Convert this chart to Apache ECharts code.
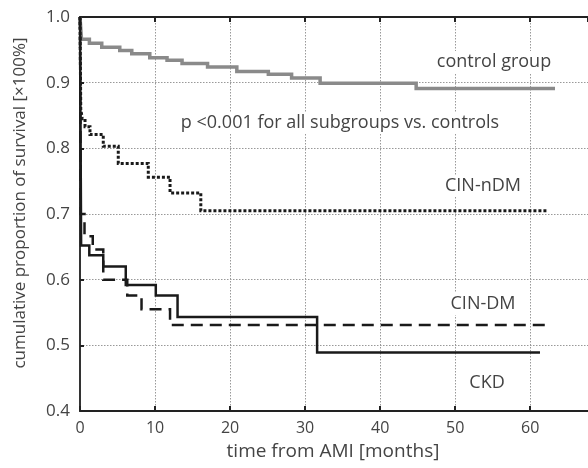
<!DOCTYPE html>
<html>
<head>
<meta charset="utf-8">
<script src="https://cdn.jsdelivr.net/npm/echarts@6/dist/echarts.min.js"></script>
<style>
  html, body { margin: 0; padding: 0; background: #fff; }
  #chart { width: 588px; height: 468px; }
</style>
</head>
<body>
<div id="chart"></div>
<script>
// survival curves, [months, proportion]
var controlGroup = [
  [0, 1.0], [0.2, 0.966], [1.25, 0.96], [2.9, 0.954], [5.3, 0.949], [6.9, 0.944],
  [9.3, 0.938], [11.6, 0.934], [13.6, 0.929], [17, 0.924], [20.9, 0.917],
  [25.1, 0.913], [28.2, 0.907], [32, 0.899], [44.8, 0.891], [63.3, 0.891]
];
var cinNDM = [
  [0, 1.0], [0.1, 0.86], [0.3, 0.845], [0.67, 0.833], [1.33, 0.821], [3.1, 0.803],
  [5.1, 0.777], [9.1, 0.756], [12, 0.732], [16.1, 0.705], [62.4, 0.705]
];
var cinDM = [
  [0, 1.0], [0.1, 0.70], [0.6, 0.666], [1.7, 0.646], [3.1, 0.600], [6.3, 0.576],
  [8.2, 0.555], [12, 0.531], [62, 0.531]
];
var ckd = [
  [0, 1.0], [0.15, 0.652], [1.24, 0.637], [3.1, 0.620], [6.1, 0.592],
  [10.1, 0.576], [13, 0.543], [31.6, 0.489], [61.3, 0.489]
];

var xTicks = { min: 0, max: 67.7, interval: 10 };
var yTicks = { min: 0.4, max: 1.0, interval: 0.1 };

var font = 'Open Sans';
var textColor = '#444';

var chart = echarts.init(document.getElementById('chart'));

function curve(name, data, color, width, type) {
  return {
    name: name,
    type: 'line',
    step: 'end',
    data: data,
    showSymbol: false,
    animation: false,
    lineStyle: { color: color, width: width, type: type, cap: 'butt', join: 'miter' }
  };
}

function label(text, x, y) {
  return {
    type: 'text',
    x: x,
    y: y,
    z: 100,
    style: {
      text: text,
      font: '18px "' + font + '"',
      fill: textColor,
      align: 'center',
      verticalAlign: 'middle',
      backgroundColor: '#fff',
      padding: [2, 4]
    }
  };
}

var gridLine = { show: true, lineStyle: { color: '#999', width: 1, type: [1.5, 1.5] } };

var option = {
  backgroundColor: '#fff',
  animation: false,
  grid: { left: 80, right: 0, top: 17, bottom: 57 },
  xAxis: [
    {
      type: 'value',
      min: xTicks.min, max: xTicks.max, interval: xTicks.interval,
      axisLine: { show: true, lineStyle: { color: '#222', width: 2 } },
      axisTick: { show: true, inside: true, length: 5, lineStyle: { color: '#222', width: 2 } },
      axisLabel: { color: textColor, fontFamily: font, fontSize: 16, margin: 9, showMaxLabel: false },
      splitLine: gridLine
    },
    {
      type: 'value',
      position: 'top',
      min: xTicks.min, max: xTicks.max, interval: xTicks.interval,
      axisLine: { show: true, lineStyle: { color: '#222', width: 2 } },
      axisTick: { show: true, inside: true, length: 5, lineStyle: { color: '#222', width: 2 } },
      axisLabel: { show: false },
      splitLine: { show: false }
    }
  ],
  yAxis: {
    type: 'value',
    min: yTicks.min, max: yTicks.max, interval: yTicks.interval,
    offset: 4,
    axisLine: { show: true, lineStyle: { color: '#333', width: 2 } },
    axisTick: { show: true, inside: true, length: 4, lineStyle: { color: '#222', width: 2 } },
    axisLabel: {
      color: textColor, fontFamily: font, fontSize: 17, margin: 6,
      formatter: function (v) { return v.toFixed(1); }
    },
    splitLine: gridLine
  },
  graphic: [
    label('control group', 494, 62),
    label('p <0.001 for all subgroups vs. controls', 340, 123),
    label('CIN-nDM', 483, 186),
    label('CIN-DM', 483, 304),
    label('CKD', 487, 383),
    {
      type: 'text', x: 333, y: 452, z: 100,
      style: { text: 'time from AMI [months]', font: '19px "' + font + '"', fill: textColor, align: 'center', verticalAlign: 'middle' }
    },
    {
      type: 'text', x: 20, y: 203, rotation: Math.PI / 2, z: 100,
      style: { text: 'cumulative proportion of survival [×100%]', font: '17px "' + font + '"', fill: textColor, align: 'center', verticalAlign: 'middle' }
    }
  ],
  series: [
    curve('control group', controlGroup, '#8a8a8a', 3.5, 'solid'),
    curve('CIN-nDM', cinNDM, '#1a1a1a', 3, [3, 2]),
    curve('CIN-DM', cinDM, '#1a1a1a', 2.5, [12, 7]),
    curve('CKD', ckd, '#1a1a1a', 2.5, 'solid')
  ]
};

chart.setOption(option);
</script>
</body>
</html>
